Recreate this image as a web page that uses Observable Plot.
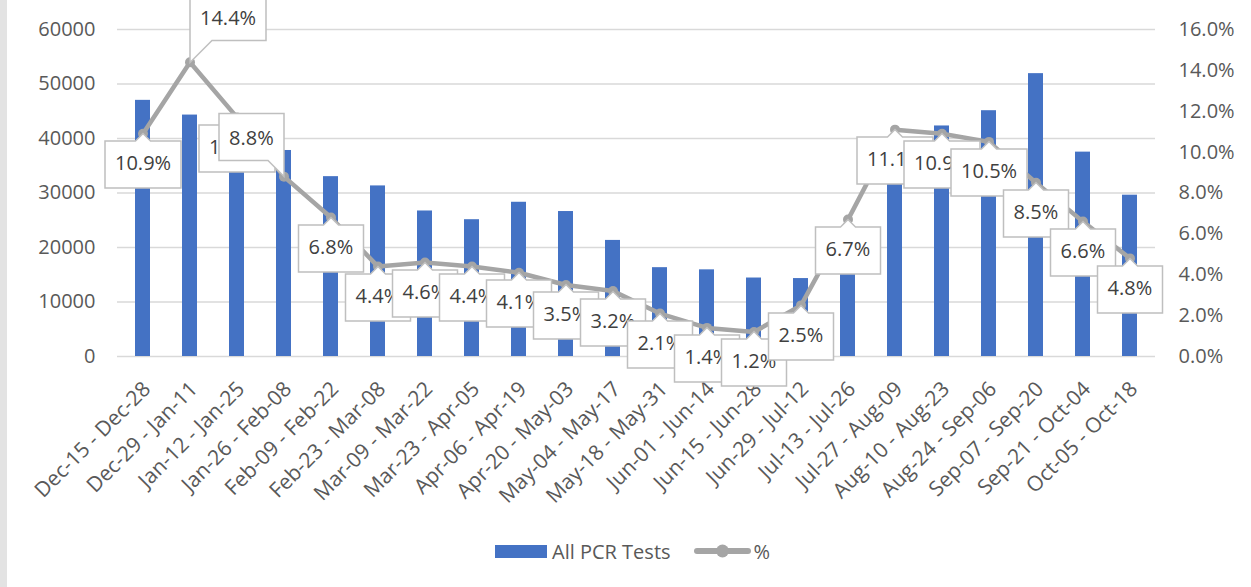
<!DOCTYPE html>
<html>
<head>
<meta charset="utf-8">
<script src="https://cdn.jsdelivr.net/npm/d3@7"></script>
<script src="https://cdn.jsdelivr.net/npm/@observablehq/plot@0.6"></script>
<style>
  body { margin: 0; background: #fff; font-family: "Open Sans", sans-serif; }
  #wrap { position: relative; width: 1251px; height: 587px; overflow: hidden; background: #fff; }
  #strip { position: absolute; left: 0; top: 0; width: 7px; height: 587px; background: #e3e3e3; z-index: 2; }
  #chart { position: absolute; left: 0; top: 0; }
  #legend { position: absolute; left: 495px; top: 536px; height: 30px; display: flex; align-items: center;
            font-size: 20px; color: #595959; font-family: "Open Sans", sans-serif; }
  g[aria-label="tip"] text { fill: #404040; }
  g[aria-label="tip"] path { filter: none; }
</style>
</head>
<body>
<div id="wrap">
  <div id="strip"></div>
  <div id="chart"></div>
  <div id="legend">
    <span style="display:inline-block;width:52px;height:13px;background:#4472c4;margin-right:5px"></span>
    <span>All PCR Tests</span>
    <svg width="57" height="14" style="margin-left:23px;margin-right:3px">
      <line x1="3" x2="54" y1="7" y2="7" stroke="#a5a5a5" stroke-width="6" stroke-linecap="round"></line>
      <circle cx="28.5" cy="7" r="6.5" fill="#a5a5a5"></circle>
    </svg>
    <span>%</span>
  </div>
</div>
<script>
const periods = [
  "Dec-15 - Dec-28", "Dec-29 - Jan-11", "Jan-12 - Jan-25", "Jan-26 - Feb-08",
  "Feb-09 - Feb-22", "Feb-23 - Mar-08", "Mar-09 - Mar-22", "Mar-23 - Apr-05",
  "Apr-06 - Apr-19", "Apr-20 - May-03", "May-04 - May-17", "May-18 - May-31",
  "Jun-01 - Jun-14", "Jun-15 - Jun-28", "Jun-29 - Jul-12", "Jul-13 - Jul-26",
  "Jul-27 - Aug-09", "Aug-10 - Aug-23", "Aug-24 - Sep-06", "Sep-07 - Sep-20",
  "Sep-21 - Oct-04", "Oct-05 - Oct-18"
];
const pcrTests = [47000, 44300, 40500, 37800, 33000, 31300, 26700, 25100, 28300, 26600, 21300,
                  16300, 15900, 14400, 14300, 17000, 35000, 42300, 45100, 51900, 37500, 29600];
const positivity = [10.9, 14.4, 11.7, 8.8, 6.8, 4.4, 4.6, 4.4, 4.1, 3.5, 3.2,
                    2.1, 1.4, 1.2, 2.5, 6.7, 11.1, 10.9, 10.5, 8.5, 6.6, 4.8];
const leftTicks = [0, 10000, 20000, 30000, 40000, 50000, 60000];
const rightTicks = [0, 2, 4, 6, 8, 10, 12, 14, 16];

const leftMax = 60000, rightMax = 16;
const k = leftMax / rightMax; // maps percent onto the left (count) scale

const rows = periods.map((p, i) => ({
  i, period: p, tests: pcrTests[i], pct: positivity[i],
  pctY: positivity[i] * k, label: positivity[i].toFixed(1) + "%"
}));

// callout placement (layout, not data)
const aboveAnchor = {1: "bottom-left", 3: "bottom-right"};
const tipStyle = {
  x: "period", y: "pctY", title: "label",
  fill: "white", stroke: "#bfbfbf", strokeWidth: 1.5,
  fontSize: 20, fontFamily: "Open Sans", textPadding: 10, lineHeight: 1,
  pathFilter: "none"
};

const chart = Plot.plot({
  width: 1251, height: 530,
  marginTop: 29, marginBottom: 174, marginLeft: 117, marginRight: 96,
  style: { fontFamily: "Open Sans", fontSize: "20px", color: "#595959", background: "transparent" },
  x: { domain: periods, padding: 0, label: null },
  y: { domain: [0, leftMax], label: null },
  marks: [
    Plot.gridY(leftTicks, { stroke: "#d9d9d9", strokeOpacity: 1, strokeWidth: 1.3 }),
    Plot.axisY(leftTicks, { tickSize: 0, tickPadding: 22, label: null, tickFormat: d => String(d) }),
    Plot.axisY(rightTicks.map(t => t * k), { anchor: "right", tickSize: 0, tickPadding: 23, label: null,
      tickFormat: d => (d / k).toFixed(1) + "%" }),
    Plot.axisX({ tickSize: 0, tickRotate: -45, tickPadding: 29, dx: 4, fontSize: 21, label: null }),
    Plot.barY(rows, { x: "period", y: "tests", fill: "#4472c4", insetLeft: 16, insetRight: 16 }),
    Plot.line(rows, { x: "period", y: "pctY", stroke: "#a5a5a5", strokeWidth: 4.5 }),
    Plot.dot(rows, { x: "period", y: "pctY", r: 5, fill: "#a5a5a5", stroke: "none" }),
    Plot.tip(rows.filter(d => !(d.i in aboveAnchor)), { ...tipStyle, anchor: "top", pointerSize: 15 }),
    Plot.tip(rows.filter(d => aboveAnchor[d.i] === "bottom-left"), { ...tipStyle, anchor: "bottom-left", pointerSize: 22 }),
    Plot.tip(rows.filter(d => aboveAnchor[d.i] === "bottom-right"), { ...tipStyle, anchor: "bottom-right", pointerSize: 16 })
  ]
});
document.getElementById("chart").append(chart);
</script>
</body>
</html>
